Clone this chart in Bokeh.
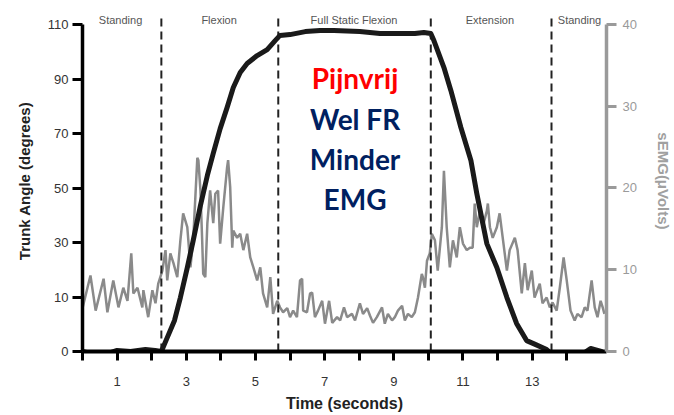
from bokeh.plotting import figure
from bokeh.models import Range1d, LinearAxis, FixedTicker
from bokeh.core.properties import value
from bokeh.embed import file_html
from bokeh.resources import INLINE

# ---- data ----
trunk_t = [0.0, 0.23, 0.43, 0.81, 1.0, 1.39, 1.82, 2.1, 2.28, 2.45, 2.66, 2.83, 3.03, 3.2, 3.41,
           3.61, 3.78, 3.98, 4.18, 4.36, 4.56, 4.76, 5.05, 5.34, 5.57, 5.71, 6.0, 6.44, 6.87,
           7.27, 8.02, 8.6, 9.18, 9.61, 9.87, 10.07, 10.16, 10.45, 10.65, 10.94, 11.23, 11.4,
           11.69, 11.98, 12.27, 12.55, 12.84, 13.04, 13.42, 13.62, 14.0, 14.49, 14.69, 15.0]
trunk_deg = [-10, -10.7, -11.1, -10.4, -9.6, -10, -9.3, -9.6, -10, -4.9, 1.4, 9.8, 20.8, 30.7, 43.6,
             54.6, 62.7, 71.8, 79.5, 86.9, 92.4, 95.7, 98.6, 100.8, 104.1, 106, 106.3, 107.4, 107.8,
             107.8, 107.4, 106.7, 106.7, 106.7, 107.1, 106.7, 104.1, 94.2, 85.8, 72.2, 60.1, 48,
             29.6, 20.8, 9.8, 0.3, -6, -7.1, -9.3, -11.5, -10.4, -10.7, -8.9, -10]

emg_t = [0.0, 0.23, 0.38, 0.61, 0.72, 0.89, 1.04, 1.18, 1.30, 1.41, 1.47, 1.59, 1.73, 1.76, 1.90,
         2.02, 2.11, 2.19, 2.31, 2.40, 2.45, 2.54, 2.63, 2.74, 2.83, 2.91, 3.03, 3.06, 3.12, 3.20,
         3.32, 3.35, 3.41, 3.46, 3.49, 3.55, 3.61, 3.69, 3.78, 3.84, 3.92, 3.98, 4.07, 4.18, 4.21,
         4.27, 4.33, 4.36, 4.47, 4.56, 4.65, 4.76, 4.85, 4.94, 5.05, 5.14, 5.22, 5.34, 5.43, 5.51,
         5.63, 5.71, 5.80, 5.92, 6.00, 6.09, 6.20, 6.29, 6.35, 6.38, 6.49, 6.58, 6.64, 6.72, 6.81,
         6.93, 7.01, 7.13, 7.22, 7.36, 7.45, 7.56, 7.65, 7.79, 7.88, 8.02, 8.11, 8.23, 8.31, 8.40,
         8.51, 8.66, 8.74, 8.83, 8.95, 9.03, 9.12, 9.24, 9.32, 9.41, 9.52, 9.61, 9.70, 9.81, 9.84,
         9.90, 9.96, 10.04, 10.10, 10.19, 10.27, 10.39, 10.45, 10.53, 10.62, 10.71, 10.82, 10.91,
         11.00, 11.11, 11.20, 11.28, 11.34, 11.40, 11.49, 11.57, 11.69, 11.72, 11.78, 11.86, 11.98,
         12.06, 12.15, 12.27, 12.35, 12.50, 12.58, 12.70, 12.79, 12.87, 12.99, 13.07, 13.22, 13.30,
         13.42, 13.51, 13.59, 13.71, 13.80, 13.91, 14.00, 14.11, 14.23, 14.31, 14.43, 14.52, 14.60,
         14.72, 14.81, 14.89, 14.98, 15.04, 15.09]
emg_uv = [5.3, 9.3, 5.0, 8.9, 4.8, 8.7, 5.4, 7.8, 6.2, 12.0, 7.1, 7.8, 5.4, 7.5, 4.2,
          7.5, 5.9, 8.3, 9.9, 12.4, 8.7, 12.0, 10.8, 9.1, 13.6, 16.9, 15.2, 13.6, 10.3, 13.6,
          23.7, 23.4, 19.7, 13.6, 9.5, 9.1, 15.7, 19.7, 15.7, 19.3, 19.7, 13.2, 17.6, 22.5, 23.4,
          20.1, 12.7, 14.8, 13.9, 14.4, 12.4, 14.4, 11.5, 10.3, 8.7, 10.3, 7.1, 5.4, 9.1, 4.6,
          6.2, 5.4, 4.8, 5.3, 4.2, 5.0, 4.2, 8.7, 8.9, 5.0, 4.8, 7.1, 7.2, 4.2, 5.0,
          6.2, 3.4, 6.2, 3.5, 4.2, 3.8, 5.4, 4.2, 4.6, 3.8, 5.9, 4.6, 5.3, 4.4, 3.5,
          4.2, 5.4, 3.4, 4.6, 3.8, 4.2, 5.0, 5.6, 3.8, 4.6, 4.2, 4.8, 6.6, 9.5, 9.1,
          7.8, 11.1, 12.0, 14.4, 13.6, 9.9, 15.2, 22.1, 15.2, 10.3, 13.6, 11.5, 15.2,
          13.2, 12.4, 12.7, 12.7, 18.1, 15.2, 17.2, 15.2, 17.2, 18.1, 15.2, 13.9, 15.2,
          16.9, 13.9, 9.9, 12.4, 13.9, 12.4, 7.1, 10.8, 7.5, 9.9, 6.6, 8.3, 5.9,
          6.6, 5.4, 6.0, 5.0, 7.8, 11.5, 8.7, 5.0, 3.8, 4.6, 4.2, 5.4, 5.0,
          8.7, 5.4, 4.2, 6.2, 5.4, 4.6]

phase_bounds = [2.28, 5.66, 10.07, 13.56]
phase_names = ["Standing", "Flexion", "Full Static Flexion", "Extension", "Standing"]
phase_centers = [1.1, 3.95, 7.85, 11.78, 14.37]

x_ticks = list(range(0, 15))
x_labels = {i: (str(i) if i % 2 == 1 else "") for i in x_ticks}
y_ticks = [-10, 10, 30, 50, 70, 90, 110]
y_labels = {-10: "0"}
emg_ticks = [0, 10, 20, 30, 40]

notes = ["Pijnvrij", "Wel FR", "Minder", "EMG"]
note_colors = ["#ff0000", "#002060", "#002060", "#002060"]

# ---- figure ----
FONT = "Liberation Sans"
p = figure(width=674, height=415, output_backend="svg", toolbar_location=None,
           x_range=Range1d(0, 15.15), y_range=Range1d(-10, 115.14),
           min_border_left=82, min_border_right=67, min_border_top=10, min_border_bottom=64)
p.outline_line_color = None
p.grid.grid_line_color = None
p.background_fill_color = "white"
p.border_fill_color = "white"

p.extra_y_ranges = {"emg": Range1d(0, 41.71)}

# EMG trace
p.line(emg_t, emg_uv, y_range_name="emg", line_color="#8a8a8a", line_width=2.5)

# phase boundaries
p.segment(x0=phase_bounds, y0=[-10] * len(phase_bounds), x1=phase_bounds,
          y1=[112.2] * len(phase_bounds), line_color="#222222", line_width=2, line_dash="8 5")

# trunk angle
p.line(trunk_t, trunk_deg, line_color="#1a1a1a", line_width=5, line_join="round", line_cap="round")

# phase labels
p.text(x=phase_centers, y=[111.7] * len(phase_centers), text=phase_names,
       text_font=value(FONT), text_font_size="11px", text_color="#555555",
       text_align="center", text_baseline="middle")

# central notes
p.text(x=[7.88] * 4, y=[90.2, 75.5, 60.8, 46.1], text=notes, text_color=note_colors,
       text_font=value("Lato"), text_font_style="bold", text_font_size="28px",
       text_align="center", text_baseline="middle")

# x axis
xa = p.xaxis[0]
xa.ticker = FixedTicker(ticks=x_ticks)
xa.major_label_overrides = x_labels
xa.axis_label = "Time (seconds)"
xa.axis_line_width = 4
xa.axis_line_color = "black"
xa.major_tick_line_width = 3
xa.major_tick_in = 0
xa.major_tick_out = 9
xa.minor_tick_line_color = None
xa.major_label_standoff = 16
xa.major_label_text_font = FONT
xa.major_label_text_font_size = "13px"
xa.major_label_text_color = "#333333"
xa.axis_label_text_font = FONT
xa.axis_label_text_font_style = "bold"
xa.axis_label_text_font_size = "16px"
xa.axis_label_text_color = "#222222"
xa.axis_label_standoff = 6

# left axis
ya = p.yaxis[0]
ya.ticker = FixedTicker(ticks=y_ticks)
ya.major_label_overrides = y_labels
ya.bounds = (-10, 110)
ya.axis_label = "Trunk Angle (degrees)"
ya.axis_line_width = 3.5
ya.axis_line_color = "black"
ya.major_tick_line_width = 3
ya.major_tick_in = 0
ya.major_tick_out = 10
ya.minor_tick_line_color = None
ya.major_label_standoff = 4
ya.major_label_text_font = FONT
ya.major_label_text_font_size = "13px"
ya.major_label_text_color = "#333333"
ya.axis_label_text_font = FONT
ya.axis_label_text_font_style = "bold"
ya.axis_label_text_font_size = "15px"
ya.axis_label_text_color = "#222222"
ya.axis_label_standoff = 12

# right axis (EMG)
ra = LinearAxis(y_range_name="emg", ticker=FixedTicker(ticks=emg_ticks), bounds=(0, 40),
                axis_label="sEMG(μVolts)")
ra.axis_line_width = 3.5
ra.axis_line_color = "#9a9a9a"
ra.major_tick_line_color = "#9a9a9a"
ra.major_tick_line_width = 3
ra.major_tick_in = 0
ra.major_tick_out = 10
ra.minor_tick_line_color = None
ra.major_label_standoff = 6
ra.major_label_text_font = FONT
ra.major_label_text_font_size = "13px"
ra.major_label_text_color = "#9a9a9a"
ra.axis_label_text_font = FONT
ra.axis_label_text_font_style = "bold"
ra.axis_label_text_font_size = "15px"
ra.axis_label_text_color = "#a0a0a0"
ra.axis_label_standoff = 15
p.add_layout(ra, "right")

open("out.html", "w").write(file_html(p, INLINE))
